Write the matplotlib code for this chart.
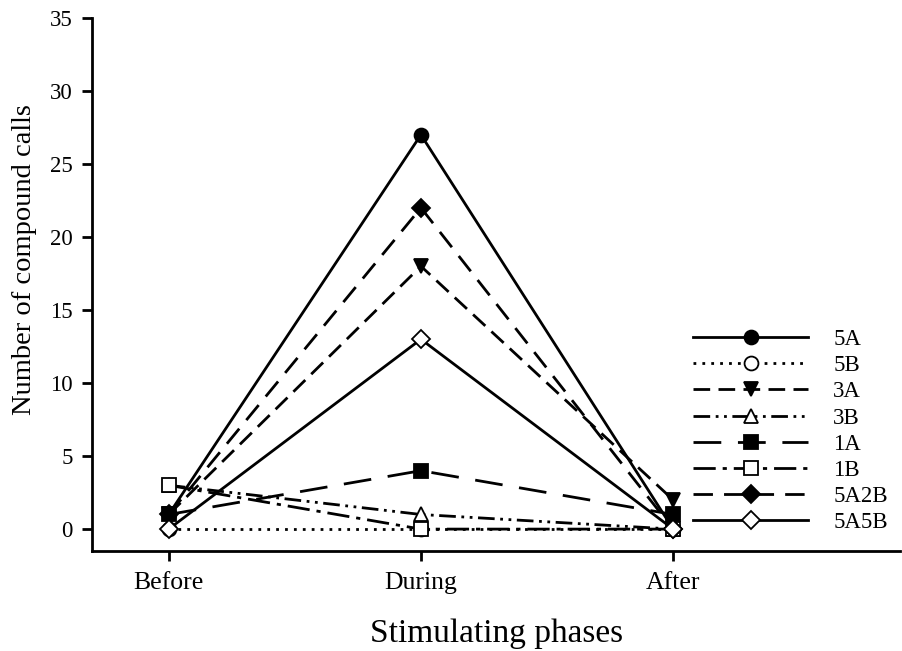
import numpy as np
import matplotlib.pyplot as plt

plt.rcParams['font.family'] = ['Liberation Serif', 'DejaVu Serif']

phases = ['Before', 'During', 'After']
labels = ['5A', '5B', '3A', '3B', '1A', '1B', '5A2B', '5A5B']

calls_5A = [1, 27, 0]
calls_5B = [0, 0, 0]
calls_3A = [1, 18, 2]
calls_3B = [3, 1, 0]
calls_1A = [1, 4, 1]
calls_1B = [3, 0, 0]
calls_5A2B = [1, 22, 0]
calls_5A5B = [0, 13, 0]

series = [calls_5A, calls_5B, calls_3A, calls_3B, calls_1A, calls_1B, calls_5A2B, calls_5A5B]

# line / marker styles for each group
styles = [
    dict(ls='-', marker='o', mfc='black'),
    dict(ls=(0, (1, 2.2)), marker='o', mfc='white'),
    dict(ls=(0, (6, 3)), marker='v', mfc='black'),
    dict(ls=(0, (6, 2, 1, 2, 1, 2)), marker='^', mfc='white'),
    dict(ls=(0, (10, 6)), marker='s', mfc='black'),
    dict(ls=(0, (8, 2.5, 1.5, 2.5)), marker='s', mfc='white'),
    dict(ls=(0, (7, 4)), marker='D', mfc='black'),
    dict(ls='-', marker='D', mfc='white'),
]

fig = plt.figure(figsize=(9.02, 6.51), dpi=100)
ax = fig.add_axes([0.102, 0.1536, 0.896, 0.8188])

x = np.arange(len(phases))
for lab, vals, st in zip(labels, series, styles):
    ms = 9 if st['marker'] == 'D' else 10
    ax.plot(x, vals, color='black', lw=2, linestyle=st['ls'], marker=st['marker'],
            markersize=ms, markerfacecolor=st['mfc'], markeredgecolor='black',
            markeredgewidth=1.3, label=lab)

ax.set_xlim(-0.304, 2.9)
ax.set_ylim(-1.5, 35)
ax.set_yticks(np.arange(0, 36, 5))
ax.set_xticks(x)
ax.set_xticklabels(phases)
ax.spines['top'].set_visible(False)
ax.spines['right'].set_visible(False)
ax.spines['left'].set_linewidth(2)
ax.spines['bottom'].set_linewidth(2)
ax.tick_params(axis='both', direction='out', length=7, width=2)
ax.tick_params(axis='y', labelsize=16.5, pad=7)
ax.tick_params(axis='x', labelsize=18.5, pad=8)

ax.set_xlabel('Stimulating phases', fontsize=24, labelpad=18)
ax.set_ylabel('Number of compound calls', fontsize=20.5)
ax.yaxis.set_label_coords(-0.068, 0.546)

ax.legend(loc='upper left', bbox_to_anchor=(0.744, 0.416), frameon=False,
          handlelength=5.0, handletextpad=1.1, labelspacing=0.22, fontsize=16.5,
          borderaxespad=0, borderpad=0)

fig.savefig('out.png', dpi=100)
